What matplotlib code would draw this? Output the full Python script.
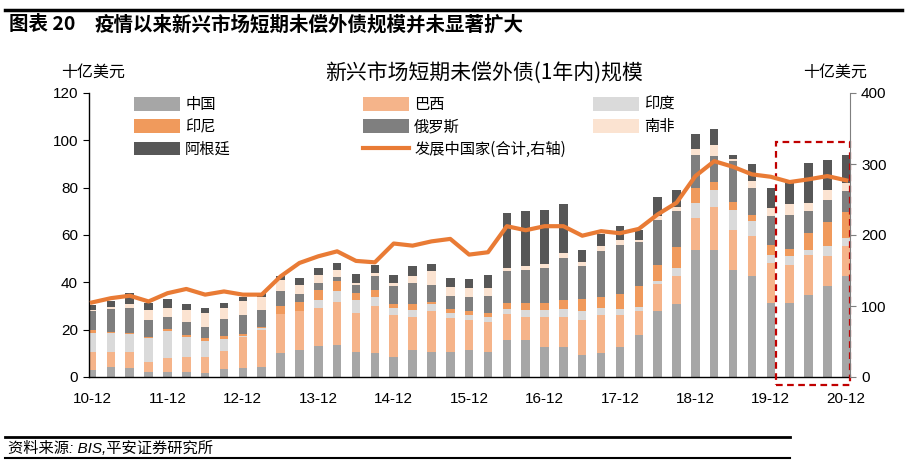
import matplotlib
matplotlib.use('Agg')
import matplotlib.pyplot as plt
import numpy as np
from matplotlib.patches import Rectangle
from matplotlib.lines import Line2D

plt.rcParams['font.family'] = ['Liberation Sans', 'Noto Sans CJK SC', 'DejaVu Sans']

# 季度：2010Q4 到 2020Q4，共 41 个
TICK_LABELS = ['10-12', '11-12', '12-12', '13-12', '14-12', '15-12',
               '16-12', '17-12', '18-12', '19-12', '20-12']

# 十亿美元，按季度读取
china = [3.0, 4.4, 4.0, 2.0, 2.3, 2.0, 1.5, 3.3, 3.7, 4.3,
         10.0, 11.4, 13.0, 13.6, 10.7, 10.0, 8.6, 11.4, 10.7, 10.5,
         11.4, 10.7, 15.7, 15.7, 12.8, 12.8, 9.3, 10.0, 12.8, 17.8,
         27.7, 31.0, 53.5, 53.5, 45.3, 42.8, 31.2, 31.2, 34.7, 38.3, 42.5]
brazil = [7.7, 6.3, 6.7, 4.5, 5.9, 6.3, 6.8, 7.7, 13.0, 15.7,
          16.5, 16.3, 16.0, 18.3, 16.3, 19.8, 17.7, 14.1, 17.0, 14.5,
          12.8, 12.7, 11.0, 9.8, 12.7, 12.7, 14.9, 16.3, 13.5, 9.9,
          11.5, 11.5, 13.7, 18.4, 16.7, 16.9, 17.0, 16.3, 17.0, 12.7, 13.0]
india = [8.0, 8.0, 7.3, 10.0, 11.3, 8.7, 7.1, 5.0, 0.7, 0.5,
         0.3, 0.3, 3.6, 4.3, 5.6, 4.2, 2.8, 2.6, 3.3, 2.2,
         2.1, 2.1, 1.9, 2.6, 2.6, 3.1, 3.5, 2.8, 2.3, 1.8,
         1.5, 3.5, 6.4, 7.1, 8.5, 6.1, 3.5, 3.8, 1.8, 4.5, 3.3]
indonesia = [1.2, 0.5, 0.7, 0.6, 0.8, 0.6, 1.1, 1.5, 0.6, 0.7,
             3.0, 3.5, 4.2, 4.2, 2.8, 2.6, 1.9, 2.9, 0.5, 1.5,
             1.4, 1.7, 2.6, 3.1, 3.1, 4.0, 5.2, 4.6, 6.6, 9.1,
             6.8, 9.0, 6.4, 3.3, 3.4, 2.8, 4.2, 2.8, 7.4, 9.9, 10.8]
russia = [8.0, 9.4, 10.3, 7.0, 5.0, 5.7, 4.5, 7.1, 8.0, 7.2,
          6.5, 3.7, 2.9, 1.8, 3.6, 6.2, 7.3, 8.7, 7.5, 5.5,
          6.3, 7.1, 13.4, 14.1, 14.8, 17.6, 13.8, 19.4, 20.7, 18.3,
          19.0, 15.0, 14.0, 11.0, 17.3, 11.4, 12.0, 14.5, 9.1, 9.6, 8.9]
south_africa = [0.6, 1.0, 2.0, 4.3, 3.9, 4.9, 6.2, 4.6, 6.0, 5.2,
                4.5, 3.8, 3.5, 3.1, 0.7, 1.1, 1.4, 2.8, 5.6, 4.0,
                3.6, 3.3, 1.4, 1.4, 1.9, 2.2, 1.7, 2.1, 1.9, 1.1,
                1.5, 2.0, 2.2, 4.6, 1.0, 2.8, 3.6, 4.3, 3.6, 4.0, 3.5]
argentina = [2.0, 2.6, 4.5, 2.7, 3.8, 2.5, 2.0, 2.1, 2.0, 1.8,
             1.8, 2.8, 2.8, 2.9, 3.9, 3.6, 3.5, 4.2, 3.3, 3.6,
             3.8, 5.6, 23.3, 23.3, 22.6, 20.5, 5.1, 5.4, 5.9, 4.3,
             8.2, 7.2, 6.3, 6.8, 1.4, 7.0, 8.5, 9.1, 16.9, 12.7, 11.6]
# 发展中国家合计（右轴）
developing_total = [105, 111, 114.5, 106.4, 118, 124, 116, 120.5, 116, 116,
                    141.7, 160.6, 170, 177, 163.5, 161.5, 188, 185, 191, 194.5,
                    172.4, 175.7, 212.4, 206.7, 212.4, 212.4, 199, 205.4, 202.5, 208.6,
                    229, 245.4, 283, 304, 296, 285.4, 282, 274.6, 278.4, 283, 277]

series = [
    ('中国', china, '#a6a6a6'),
    ('巴西', brazil, '#f5b48a'),
    ('印度', india, '#dadada'),
    ('印尼', indonesia, '#f09a5c'),
    ('俄罗斯', russia, '#7f7f7f'),
    ('南非', south_africa, '#fbe3d1'),
    ('阿根廷', argentina, '#575757'),
]

W, H = 905, 472
fig = plt.figure(figsize=(W / 100, H / 100), dpi=100)
ax = fig.add_axes([89 / W, 1 - 377 / H, (850 - 89) / W, (377 - 93) / H])

x = np.arange(len(china))
bottom = np.zeros(len(x))
handles = {}
for name, vals, color in series:
    b = ax.bar(x, vals, width=0.45, bottom=bottom, color=color, label=name,
               linewidth=0, zorder=2)
    handles[name] = b
    bottom += np.array(vals)

ax.set_xlim(-0.16, 40.2)
ax.set_ylim(0, 120)
ax.set_yticks(range(0, 121, 20))
ax.set_xticks(x[::4])
ax.set_xticklabels(TICK_LABELS)
ax.tick_params(axis='x', direction='in', length=4, pad=11, labelsize=11)
ax.tick_params(axis='y', direction='out', length=4, pad=4, labelsize=11)
for s in ['top', 'right']:
    ax.spines[s].set_visible(False)
ax.spines['left'].set_linewidth(1.0)
ax.spines['bottom'].set_linewidth(1.0)

ax2 = ax.twinx()
line, = ax2.plot(x, developing_total, color='#e97b35', lw=3, zorder=3,
                 label='发展中国家(合计,右轴)')
ax2.set_ylim(0, 400)
ax2.set_yticks(range(0, 401, 100))
ax2.tick_params(axis='y', direction='out', length=4, pad=4, labelsize=11,
                color='#7f7f7f')
for s in ['top', 'left', 'bottom']:
    ax2.spines[s].set_visible(False)
ax2.spines['right'].set_color('#7f7f7f')

# 红色虚线框标出疫情以来的季度
ax.add_patch(Rectangle((36.3, -3.5), 3.9, 103, fill=False, ec='#c00000',
                       ls=(0, (3, 2)), lw=1.6, clip_on=False, zorder=5))

# 图例分三列放置
cols = [
    (134, ['中国', '印尼', '阿根廷']),
    (363, ['巴西', '俄罗斯', '发展中国家(合计,右轴)']),
    (593, ['印度', '南非']),
]
handles['发展中国家(合计,右轴)'] = line
for xpx, names in cols:
    fig.legend([handles[n] for n in names], names, loc='upper left',
               bbox_to_anchor=(xpx / W, 1 - 96 / H), frameon=False,
               borderpad=0, borderaxespad=0, handlelength=3.0,
               handleheight=1.0, handletextpad=0.35, labelspacing=0.35,
               prop={'family': ['Noto Sans CJK SC'], 'size': 11})

fig.text(93 / W, 1 - 72 / H, '十亿美元', ha='center', va='center', fontsize=11.5,
         family=['Noto Sans CJK SC'])
fig.text(835 / W, 1 - 72 / H, '十亿美元', ha='center', va='center', fontsize=11.5,
         family=['Noto Sans CJK SC'])
fig.text(484 / W, 1 - 74 / H, '新兴市场短期未偿外债(1年内)规模', ha='center',
         va='center', fontsize=15, family=['Noto Sans CJK SC', 'DejaVu Sans'])

# 页眉与页脚
fig.add_artist(Line2D([5 / W, 902 / W], [1 - 10 / H, 1 - 10 / H], color='black', lw=2.5))
fig.text(9 / W, 1 - 25 / H, '图表 20', ha='left', va='center', fontsize=14,
         weight='bold', family=['Noto Sans CJK SC'])
fig.text(95 / W, 1 - 25 / H, '疫情以来新兴市场短期未偿外债规模并未显著扩大', ha='left',
         va='center', fontsize=14, weight='bold', family=['Noto Sans CJK SC'])
fig.add_artist(Line2D([5 / W, 790 / W], [1 - 437 / H, 1 - 437 / H], color='black', lw=2))
fig.add_artist(Line2D([5 / W, 790 / W], [1 - 458 / H, 1 - 458 / H], color='black', lw=1.5))
fig.text(8 / W, 1 - 448 / H, '资料来源: BIS,平安证券研究所', ha='left', va='center',
         fontsize=11, style='italic',
         family=['Liberation Sans', 'Noto Sans CJK SC'])

fig.savefig('out.png', dpi=100)
